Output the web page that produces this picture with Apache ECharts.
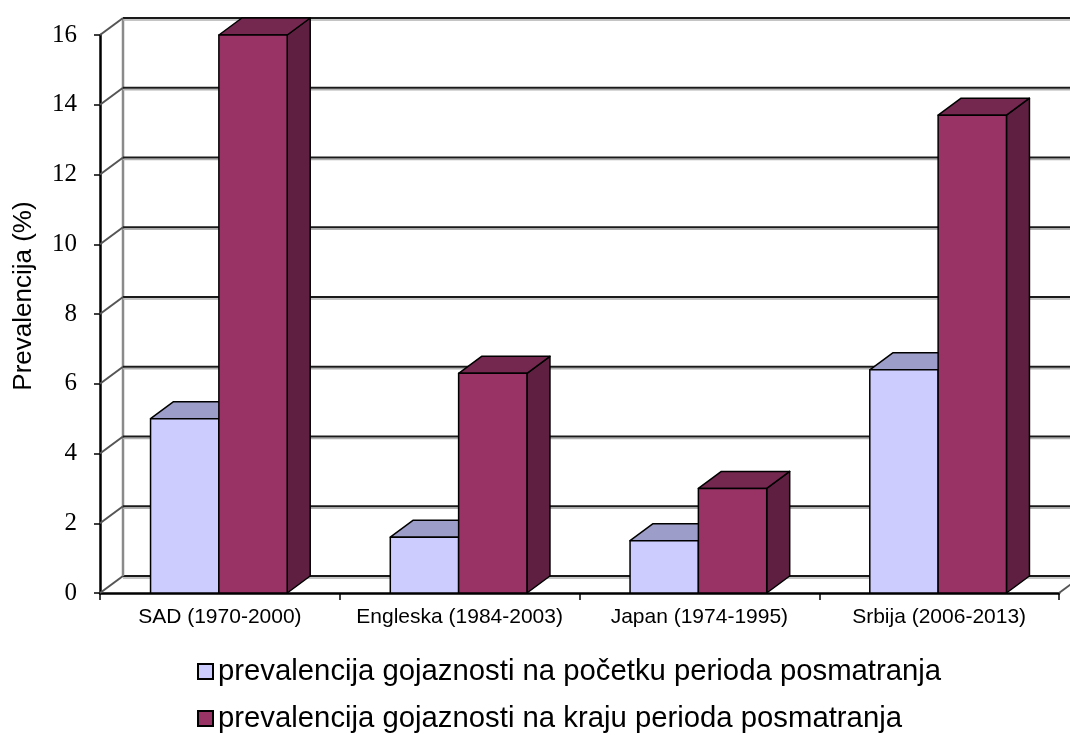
<!DOCTYPE html>
<html>
<head>
<meta charset="utf-8">
<script src="https://cdn.jsdelivr.net/npm/echarts@6/dist/echarts.min.js"></script>
<style>
    html, body { margin: 0; padding: 0; background: #fff; }
    #chart { width: 1070px; height: 735px; }
</style>
</head>
<body>
<div id="chart"></div>
<script>
var categories = ['SAD (1970-2000)', 'Engleska (1984-2003)', 'Japan (1974-1995)', 'Srbija (2006-2013)'];
var startValues = [5.0, 1.6, 1.5, 6.4];
var endValues = [16.0, 6.3, 3.0, 13.7];
var yTicks = [0, 2, 4, 6, 8, 10, 12, 14, 16];
var seriesNames = [
    'prevalencija gojaznosti na početku perioda posmatranja',
    'prevalencija gojaznosti na kraju perioda posmatranja'
];

// depth of the 3d look, in pixels
var DX = 23, DY = -17;

var chart = echarts.init(document.getElementById('chart'));

function wallItem(params, api) {
    var cs = params.coordSys;
    var y = api.coord([0, api.value(1)])[1];
    var x0 = cs.x, x1 = cs.x + cs.width;
    var children = [
        { type: 'line', shape: { x1: x0 + DX, y1: y + DY + 2, x2: x1 + DX, y2: y + DY + 2 },
          style: { stroke: '#b0b0b0', lineWidth: 1.5 } },
        { type: 'line', shape: { x1: x0 + DX, y1: y + DY, x2: x1 + DX, y2: y + DY },
          style: { stroke: '#1a1a1a', lineWidth: 2 } },
        { type: 'line', shape: { x1: x0, y1: y, x2: x0 + DX, y2: y + DY },
          style: { stroke: '#555', lineWidth: 2 } }
    ];
    if (params.dataIndex === 0) {
        children.push(
            { type: 'line', shape: { x1: x0 + DX, y1: cs.y + DY, x2: x0 + DX, y2: cs.y + cs.height + DY },
              style: { stroke: '#8a8a8a', lineWidth: 2.5 } },
            { type: 'line', shape: { x1: x1, y1: cs.y + cs.height, x2: x1 + DX, y2: cs.y + cs.height + DY },
              style: { stroke: '#555', lineWidth: 2 } }
        );
    }
    return { type: 'group', children: children };
}

function barItem(side, front, top, dark) {
    return function (params, api) {
        var c = api.coord([api.value(0), api.value(1)]);
        var base = api.coord([api.value(0), 0])[1];
        var bw = api.size([1, 0])[0] * 0.285;
        var x = side === 0 ? c[0] - bw - 1 : c[0] - 1;
        var t = c[1];
        var st = { stroke: '#000', lineWidth: 1.5, lineJoin: 'round' };
        return {
            type: 'group',
            children: [
                { type: 'polygon', shape: { points: [[x + bw, t], [x + bw + DX, t + DY], [x + bw + DX, base + DY], [x + bw, base]] },
                  style: Object.assign({ fill: dark }, st) },
                { type: 'polygon', shape: { points: [[x, t], [x + DX, t + DY], [x + bw + DX, t + DY], [x + bw, t]] },
                  style: Object.assign({ fill: top }, st) },
                { type: 'rect', shape: { x: x, y: t, width: bw, height: base - t },
                  style: Object.assign({ fill: front }, st) }
            ]
        };
    };
}

var legendBase = {
    left: 192,
    icon: 'rect',
    itemWidth: 15,
    itemHeight: 15,
    itemStyle: { borderColor: '#000', borderWidth: 2 },
    textStyle: { fontFamily: 'Liberation Sans', fontSize: 29.3, color: '#000' }
};

var option = {
    backgroundColor: '#fff',
    animation: false,
    grid: { left: 100, right: 11, top: 35, bottom: 142 },
    legend: [
        Object.assign({ data: [seriesNames[0]], top: 652 }, legendBase),
        Object.assign({ data: [seriesNames[1]], top: 699 }, legendBase)
    ],
    graphic: [
        {
            type: 'text',
            x: 24,
            y: 296,
            rotation: Math.PI / 2,
            style: {
                text: 'Prevalencija (%)',
                fontFamily: 'Liberation Sans',
                fontSize: 26,
                fill: '#000',
                align: 'center',
                verticalAlign: 'middle'
            }
        }
    ],
    xAxis: {
        type: 'category',
        data: categories,
        axisLine: { lineStyle: { color: '#000', width: 2.5 } },
        axisTick: { show: true, length: 7, lineStyle: { color: '#000', width: 1.5 } },
        axisLabel: { interval: 0, fontFamily: 'Liberation Sans', fontSize: 21, color: '#000', margin: 14 },
        splitLine: { show: false }
    },
    yAxis: {
        type: 'value',
        min: 0,
        max: 16,
        interval: 2,
        axisLine: { show: true, lineStyle: { color: '#000', width: 2.5 } },
        axisTick: { show: true, length: 6, lineStyle: { color: '#000', width: 1.5 } },
        axisLabel: { fontFamily: 'Liberation Serif', fontSize: 25, color: '#000', margin: 23, padding: [7, 0, 0, 0] },
        splitLine: { show: false }
    },
    series: [
        {
            type: 'custom',
            name: 'walls',
            z: 1,
            clip: false,
            renderItem: wallItem,
            encode: { x: 0, y: 1 },
            data: yTicks.map(function (v) { return [0, v]; })
        },
        {
            type: 'custom',
            name: seriesNames[0],
            z: 3,
            clip: false,
            itemStyle: { color: '#CCCCFF' },
            renderItem: barItem(0, '#CCCCFF', '#9D9DC9', '#7F7FA8'),
            encode: { x: 0, y: 1 },
            data: startValues.map(function (v, i) { return [i, v]; })
        },
        {
            type: 'custom',
            name: seriesNames[1],
            z: 4,
            clip: false,
            itemStyle: { color: '#993366' },
            renderItem: barItem(1, '#993366', '#74284F', '#5F1F40'),
            encode: { x: 0, y: 1 },
            data: endValues.map(function (v, i) { return [i, v]; })
        }
    ]
};
chart.setOption(option);
</script>
</body>
</html>
